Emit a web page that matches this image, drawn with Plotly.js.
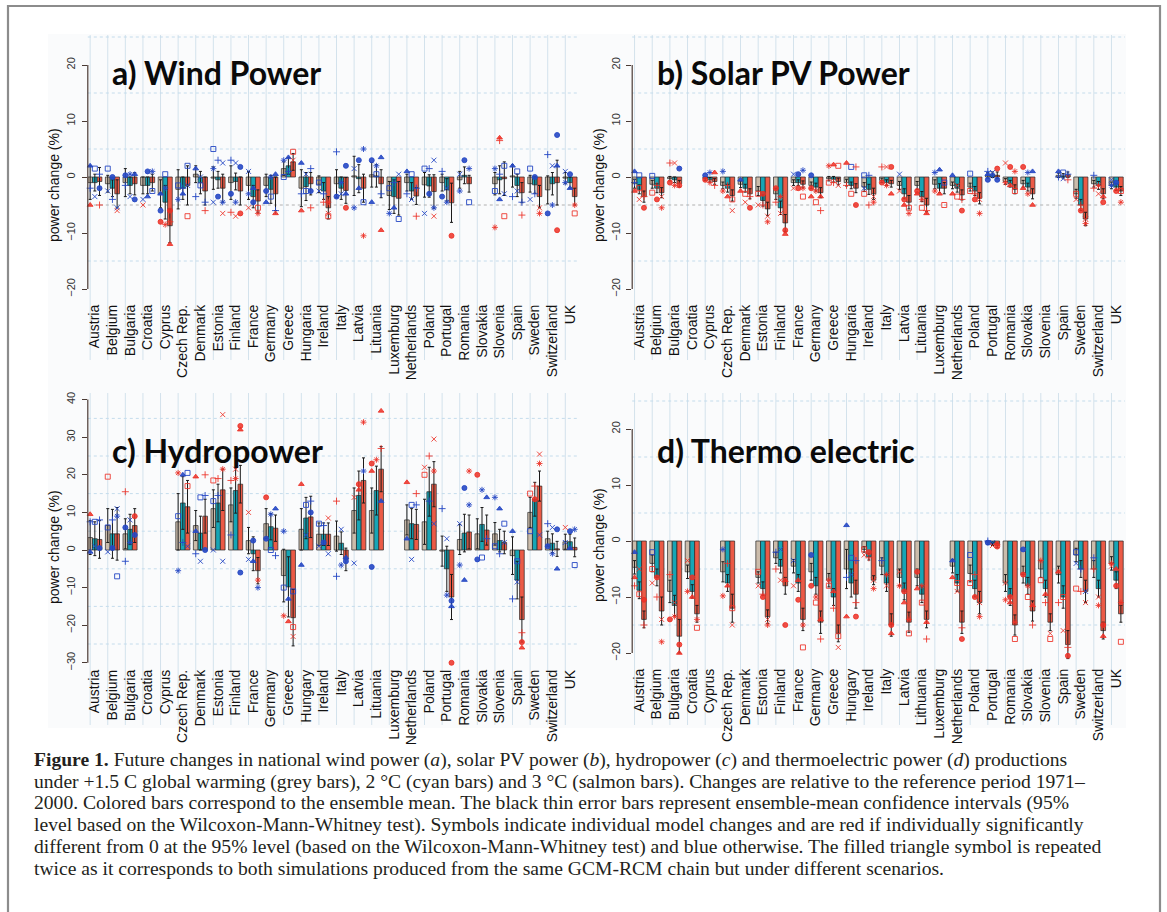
<!DOCTYPE html>
<html><head><meta charset="utf-8">
<script src="https://cdn.plot.ly/plotly-3.0.1.min.js"></script>
<style>html,body{margin:0;padding:0;background:#fff}#chart{width:1167px;height:912px}</style>
</head><body><div id="chart"></div>
<script>
// ---------------- DATA ----------------
const countriesWind = ['Austria','Belgium','Bulgaria','Croatia','Cyprus','Czech Rep.','Denmark','Estonia','Finland','France','Germany','Greece','Hungaria','Ireland','Italy','Latvia','Lituania','Luxemburg','Netherlands','Poland','Portugal','Romania','Slovakia','Slovenia','Spain','Sweden','Switzerland','UK'];
const countriesSolar = ['Austria','Belgium','Bulgaria','Croatia','Cyprus','Czech Rep.','Denmark','Estonia','Finland','France','Germany','Greece','Hungaria','Ireland','Italy','Latvia','Lituania','Luxemburg','Netherlands','Poland','Portugal','Romania','Slovakia','Slovenia','Spain','Sweden','Switzerland','UK'];
const countriesHydro = ['Austria','Belgium','Bulgaria','Croatia','Cyprus','Czech Rep.','Denmark','Estonia','Finland','France','Germany','Greece','Hungary','Ireland','Italy','Latvia','Lituania','Luxemburg','Netherlands','Poland','Portugal','Romania','Slovakia','Slovenia','Spain','Sweden','Switzerland','UK'];
const countriesThermo = ['Austria','Belgium','Bulgaria','Croatia','Cyprus','Czech Rep.','Denmark','Estonia','Finland','France','Germany','Greece','Hungary','Ireland','Italy','Latvia','Lithuania','Luxemburg','Netherlands','Poland','Portugal','Romania','Slovakia','Slovenia','Spain','Sweden','Switzerland','UK'];

// ensemble means: +1.5C (grey), +2C (cyan), +3C (salmon)
const windG = [-1.0,-1.2,-1.0,-1.5,-3.0,-2.2,0.5,-0.2,-1.0,-1.5,-1.5,1.5,-2.0,-1.3,-1.2,0.2,0.4,-3.3,-1.0,-1.4,-1.0,-0.5,null,-1.2,0.2,-1.2,-2.3,-0.2];
const windC = [-1.0,-2.0,-1.5,-1.5,-4.5,-2.0,-1.0,-0.5,-0.8,-3.5,-2.2,2.0,-1.7,-2.5,-2.0,-0.3,0.2,-3.5,-2.5,-1.6,-2.3,0.3,null,-0.5,-1.5,-1.4,-1.2,-1.0];
const windS = [-0.8,-3.0,-1.2,-1.0,-8.7,-1.5,-2.5,-2.0,-2.5,-4.3,-3.0,2.7,-1.2,-5.5,-2.4,-2.0,-1.2,-3.8,-3.4,-2.6,-4.6,-1.2,null,-0.3,-2.8,-3.5,-1.0,-3.5];
const windErrG = [3.0,1.5,2.5,1.5,2.5,3.5,1.5,2.0,3.0,2.5,2.0,1.2,3.3,1.5,2.5,3.5,2.2,2.5,1.5,2.2,1.5,1.5,null,2.0,2.0,1.5,2.5,1.0];
const windErrC = [1.5,1.5,1.5,1.5,3.0,2.0,2.0,1.5,1.5,2.0,2.5,1.5,2.5,1.5,2.0,2.5,2.0,3.0,1.5,2.0,2.0,1.5,null,2.5,2.0,1.5,2.0,1.0];
const windErrS = [2.5,2.5,2.0,1.5,3.0,3.5,2.5,2.5,2.5,2.0,3.0,1.5,2.0,2.0,2.3,2.5,2.5,3.0,1.5,3.0,3.5,1.5,null,3.0,1.8,2.0,4.0,1.5];

const solarG = [-1.2,-1.3,-0.3,null,-0.3,-1.5,-1.3,-2.5,-3.0,-1.0,-1.5,-0.3,-1.0,-1.8,-0.6,-1.5,-1.5,-1.3,-1.5,-1.8,0.3,-0.8,-1.2,null,0.3,-3.0,-1.2,-1.5];
const solarC = [-2.2,-2.0,-0.5,null,-0.5,-2.0,-2.0,-4.2,-5.5,-1.0,-1.8,-0.4,-1.5,-2.2,-1.0,-3.0,-3.5,-2.0,-2.0,-2.5,0.4,-1.2,-1.8,null,0.2,-5.0,-1.5,-1.8];
const solarS = [-3.5,-2.8,-1.2,null,-0.8,-3.3,-3.0,-5.7,-8.2,-1.3,-2.8,-0.8,-2.0,-3.0,-1.2,-4.5,-5.0,-2.0,-3.2,-3.8,0.3,-2.2,-3.0,null,0.4,-7.5,-3.0,-2.5];
const solarErrG = [0.8,0.7,0.4,null,0.3,0.6,0.6,0.8,1.0,0.5,0.6,0.4,0.6,0.8,0.4,0.7,0.7,0.8,0.6,0.7,0.5,0.5,0.6,null,0.4,0.8,0.6,0.6];
const solarErrC = [0.8,0.8,0.5,null,0.4,0.7,0.7,1.0,1.2,0.5,0.7,0.5,0.6,0.9,0.5,0.9,0.9,0.8,0.7,0.8,0.5,0.6,0.7,null,0.4,1.0,0.7,0.6];
const solarErrS = [1.0,0.9,0.6,null,0.5,1.0,0.9,1.2,1.5,0.6,0.9,0.6,0.8,1.0,0.6,1.2,1.2,1.0,0.9,1.0,0.6,0.8,0.9,null,0.5,1.2,0.9,0.8];

const hydroG = [3.3,6.5,4.3,null,null,7.5,6.5,11.0,12.0,2.5,7.0,-6.8,5.5,4.2,3.7,10.5,10.5,null,8.0,7.5,-0.3,2.8,4.3,4.3,-1.5,10.0,3.0,2.2];
const hydroC = [3.0,4.3,5.5,null,null,12.5,4.5,12.5,15.8,-1.0,6.2,-9.8,8.5,4.2,1.8,14.5,15.8,null,7.0,15.5,-5.0,4.5,6.8,2.5,-8.0,13.5,1.8,2.2];
const hydroS = [2.8,4.3,6.5,null,null,11.5,9.0,16.0,17.5,-5.5,5.8,-18.0,8.8,4.2,-2.5,18.5,21.5,null,6.8,17.5,-12.5,4.8,5.3,2.0,-18.5,17.0,0.3,0.7];
const hydroErrG = [4.5,4.5,4.0,null,null,7.5,4.0,5.0,4.5,3.5,4.0,7.0,5.5,3.0,4.0,6.0,6.0,null,4.0,6.0,4.0,4.0,4.0,3.0,5.0,4.0,2.0,2.0];
const hydroErrC = [4.5,6.5,4.0,null,null,7.0,4.5,5.0,6.0,4.5,3.5,8.0,5.5,3.0,3.0,6.5,6.5,null,4.0,6.5,6.0,5.0,4.5,3.0,5.0,4.5,2.5,2.0];
const hydroErrS = [5.0,7.0,4.5,null,null,7.0,4.5,5.5,5.0,3.5,3.5,7.5,5.5,3.0,3.0,6.0,6.0,null,4.0,6.0,6.0,4.5,4.0,3.0,6.0,4.0,2.0,2.5];

const thermoG = [-4.7,-4.0,-9.0,-5.5,null,-5.5,null,-6.5,-3.0,-4.5,-5.5,-7.0,-5.0,-1.5,-4.5,-6.5,-6.5,null,-4.5,-5.8,-0.3,-7.5,-6.0,-5.0,-6.0,-2.5,-5.0,-4.0];
const thermoC = [-8.8,-6.5,-11.5,-9.0,null,-7.5,null,-8.5,-4.5,-7.5,-8.0,-10.0,-7.5,-2.8,-7.5,-9.0,-9.5,null,-7.5,-8.5,-0.5,-10.0,-8.0,-8.5,-10.0,-5.0,-8.5,-7.0];
const thermoS = [-14.0,-12.5,-17.0,-13.0,null,-12.0,null,-13.5,-8.0,-14.0,-14.5,-16.5,-9.5,-7.0,-15.0,-14.5,-14.0,null,-14.5,-11.0,-0.8,-15.0,-12.5,-14.5,-18.5,-9.0,-16.0,-13.0];
const thermoErrG = [1.2,1.5,2.0,1.2,null,1.8,null,1.0,1.0,1.2,1.5,1.2,3.5,0.5,1.5,1.5,1.5,null,1.2,1.5,0.3,1.5,1.5,1.5,1.5,1.2,1.5,1.2];
const thermoErrC = [1.5,1.5,1.8,1.2,null,1.5,null,1.2,1.2,1.5,1.5,1.5,2.5,0.6,1.5,1.5,1.5,null,1.5,1.5,0.3,1.5,1.5,1.5,2.0,1.5,1.5,1.5];
const thermoErrS = [1.5,2.5,3.0,1.5,null,2.5,null,1.2,1.5,2.0,2.0,1.5,2.5,0.8,2.0,1.8,1.5,null,2.0,2.0,0.4,1.8,1.8,1.5,2.5,2.0,1.5,1.5];

// individual model changes (red = significant, blue = not)
const windBlueG = [[2.0,-2.0],[1.5,-2.5],[-1.5,0.3],[-4.0],[-6.0,-3.0],[-4.0,-1.5],[1.5,-3.5],[5.0,-4.5,1.5],[3.0,-3.0],[1.0,-3.0],[-2.5,-4.5],[3.0,0],[2.5,-3.0],[-1.0,-2.5],[4.5,-3.5],[1.5,-5.5],[3.0,-4.5],[-6.5,-2.0],[1.0,-3.0],[1.5,-6.5],[1.0,-3.5],[0.5,-2.5],[],[1.5,-2.5],[2.0,-3.5],[1.5,-4.0],[4.0,-6.5],[1.0,-1.0]];
const windRedG = [[-5.0],[],[],[-5.0],[-8.0],[],[],[],[-6.3],[-5.5],[],[],[-6.0],[],[],[],[],[],[],[],[],[],[],[-9.0],[],[],[],[]];
const windBlueC = [[1.5,-3.5],[-4.0,0],[-3.5,0.5],[1.0,-3.5],[-2.0,0.5],[-3.0,-2.0],[-1.5,0],[3.0,-3.5],[2.5,-4.5],[-4.5,-2.0],[0,-3.5],[3.5,1.0],[-2.5,0.5],[-3.0],[-3.0,-1.0],[3.0,-2.0],[2.0,0.5],[-5.5,-1.0],[0.5,-4.0],[1.5,-3.0],[-2.0,-4.5],[3.0],[],[-4.0,0.5],[1.0,-2.5],[-3.0,0],[2.0,-5.0],[0.5,-2.0]];
const windRedC = [[],[],[],[],[-8.5],[],[],[],[-7.0],[],[],[],[],[-4.5],[],[],[],[],[],[],[],[],[],[7.0,6.5],[],[],[],[]];
const windBlueS = [[0.5,-2.0],[-5.5],[-4.0,0.5],[1.0,-2.5],[],[2.0,-1.5],[-4.5],[2.5,-4.5],[1.8],[],[0.5,-6.0],[],[1.5,-2.5],[],[2.0,-3.0],[5.0,-4.5],[3.5,-3.0],[-7.5,0.5],[-2.0],[3.0,-5.5],[],[1.5,-4.5],[],[2.0,-3.0],[-4.5],[],[7.5,2.0],[]];
const windRedS = [[-5.0],[-6.0],[],[],[-12.0,-8.0,-6.0],[-7.0],[-6.0],[-6.5],[-6.5],[-6.5,-5.5],[-6.5],[4.5,3.0],[-5.5],[-6.5,-4.5,-7.0],[-5.5],[-10.5],[-9.5],[],[-7.0],[-7.0],[-10.5],[],[],[-7.0],[-6.8],[-5.5,-6.5],[-9.5],[-5.0,-6.5]];

const solarBlueG = [[1.0,-1.0],[0.2],[],[],[0.3],[1.0],[-0.5],[],[],[0.5],[0.3],[],[],[0.3,-2.0],[],[0.5],[],[0.8],[0.3],[0.6],[1.0,-0.5,0.5],[],[],[],[1.0,0],[],[0.3],[-0.5,-1.5]];
const solarRedG = [[-2.5],[-2.8],[2.5,-1.0],[],[-0.5],[-2.5],[-2.5],[-3.0,-5.0],[-4.5,-2.0],[-2.0],[-2.0,-3.5],[2.0,-1.0],[2.5,-1.5],[-3.0],[1.8,-1.0],[-2.5],[-2.5,-3.0],[-2.5],[-3.0],[-2.5],[],[2.5,-1.0],[1.8,-2.0],[],[],[-3.0,-4.0],[-2.0],[]];
const solarBlueC = [[0.3],[],[],[],[0.8],[],[],[],[],[0.5],[],[],[1.8],[0.3],[],[],[],[1.3],[],[],[0.8,0.3],[],[0.8],[],[0.8,-0.3],[],[],[-1.0]];
const solarRedC = [[-2.0,-4.0],[-1.5,-4.0],[2.5,-1.5],[],[-1.0],[-3.5,-1.5],[-3.0,-4.5],[-5.0,-3.0],[-6.5,-3.5],[-2.0],[-2.5,-4.5],[2.2,-1.0],[-3.0],[-5.0],[1.8,-1.5],[-4.0,-5.0],[-4.0,-5.5],[-3.0],[-3.5,-1.5],[-3.0,-4.0],[],[1.8,-1.5],[-3.0],[],[],[-5.0,-6.0],[-3.0,-1.5],[-2.5]];
const solarBlueS = [[],[],[1.5],[],[],[],[],[],[],[1.2],[],[],[],[],[],[],[],[-1.0],[],[],[-0.5],[],[1.0],[],[0.5],[],[],[]];
const solarRedS = [[-3.5,-5.5],[-3.5,-5.5],[-1.5],[],[0.8,-1.5],[-4.0,-6.0],[-3.5,-5.5],[-7.0,-8.0],[-9.5,-10.2],[-2.0,-3.5],[-3.5,-6.0],[2.0,-1.5],[1.8,-5.0],[-3.5,-4.5],[1.8,-3.0],[-6.5,-5.5],[-6.5,-6.0],[-5.0],[-4.0,-6.0],[-4.0,-6.5],[1.5],[1.0,-2.5],[-5.0],[],[-0.5],[-7.5,-8.3],[-4.5,-3.5],[-4.5,-2.5]];

const hydroBlueG = [[-0.5,7.5],[6.0,-0.5],[-3.0,6.0],[],[],[-5.5,9.0],[5.0,-1.0],[13.0,0],[4.0],[-2.5],[3.0],[5.0,-10.0],[-4.0],[7.0,1.0],[-7.0],[-3.5],[-4.5],[],[3.0],[],[11.0],[7.0,-4.0],[-2.5],[14.0,1.0],[5.0,-13.0],[5.0],[7.0,1.0],[2.0]];
const hydroRedG = [[9.5],[19.5],[15.5],[],[],[20.5],[19.5],[18.5],[18.5],[10.0],[14.0],[-17.5],[17.5],[],[13.0],[14.0],[23.0,21.0],[],[18.0],[20.0,22.0],[],[],[20.0],[],[],[15.0],[],[6.0]];
const hydroBlueC = [[7.5,1.0],[8.0,0.5],[8.0,2.0],[],[],[20.0,2.0],[14.0,-3.0],[14.5],[],[2.5,-3.0],[9.5,0],[-13.0],[12.0,4.0],[6.5,2.0],[5.5,-4.0],[],[],[],[12.0,-2.5],[13.0],[3.0,-12.0],[16.5,-8.0],[16.0,-2.0],[11.0,-1.0],[-3.0,-8.5],[],[6.0,-1.0],[5.0,0.5]];
const hydroRedC = [[],[],[],[],[],[],[],[19.0],[21.5,19.0],[],[],[-19.0],[],[],[],[17.5,16.0],[24.0],[],[],[25.0],[],[],[],[],[],[17.0,13.5],[],[]];
const hydroBlueS = [[8.0,0.5],[11.0,9.0,-7.0],[4.0],[],[],[20.5,1.0],[14.5,0],[-3.0],[-6.0],[-10.0],[11.0,-1.5],[-11.0],[13.0,10.0],[-1.0],[-3.0,-2.0],[21.0],[13.0],[],[12.0],[7.0],[-13.5,-15.0],[12.0],[14.0,3.0],[7.0,2.0],[],[4.0],[5.5,-5.0],[5.5,-4.0]];
const hydroRedS = [[],[],[9.0],[],[],[17.0],[20.0],[36.0,21.5],[33.0,32.0],[-8.0],[],[-20.5,-23.0],[],[8.5],[],[34.0],[37.0,27.0],[],[15.0],[29.5,21.0],[-30.0],[21.0],[],[],[-22.0,-24.5,-26.0],[25.5,23.0],[],[]];

const thermoBlueG = [[-2.0],[-2.0],[],[],[],[-1.5],[],[],[-2.0],[-3.5],[-2.5],[],[2.8,-6.5],[],[-3.5],[],[],[],[-3.5],[-2.5],[0,-0.3],[],[-1.5],[],[],[-2.0,-4.0],[-3.0],[]];
const thermoRedG = [[-6.5,-8.0],[-5.0,-7.5],[-6.0,-14.0],[-3.5,-9.0],[],[-9.8],[],[-5.5,-8.0],[-5.0],[-8.0],[-8.0],[-7.0,-8.0],[-13.5],[-1.5,-2.5],[],[-5.5,-8.0],[-5.5,-8.5],[],[-6.5],[-7.5],[],[-7.5,-10.5],[-6.0],[-3.5,-7.0],[-5.5,-11.0],[-8.5],[-5.0],[-4.5,-4.0]];
const thermoBlueC = [[],[],[],[],[],[],[],[],[-1.5],[],[],[],[-3.0,-6.0],[],[],[],[],[],[],[],[-0.3],[],[],[],[],[-5.0],[],[]];
const thermoRedC = [[-9.5,-5.0],[-10.0,-6.5],[-11.0,-13.5],[-6.5,-10.0],[],[-8.0,-4.0],[],[-9.5,-10.0],[-7.0],[-10.5,-7.0],[-10.0,-11.0],[-9.0,-12.0],[],[-3.0,-2.0],[-8.0,-6.0],[-9.0,-11.0],[-8.0,-11.0],[],[-7.5,-9.0],[-6.0,-10.0],[-0.8],[-10.0,-11.0],[-8.0,-10.0],[-9.5,-11.0],[-10.0,-16.0],[-9.0],[-10.0,-11.5],[-8.0,-5.0]];
const thermoBlueS = [[],[],[],[],[],[],[],[],[],[],[],[],[-3.5],[],[],[],[],[],[],[],[],[],[],[],[],[-9.0],[],[]];
const thermoRedS = [[-15.0,-10.5],[-14.0,-18.0],[-18.5,-20.0],[-14.0,-15.5],[],[-12.0,-15.0],[],[-14.0,-15.0],[-15.0,-7.0],[-15.0,-19.0],[-14.0,-17.5],[-17.0,-19.0],[-11.0,-13.5],[-7.0,-8.5],[-15.0,-16.5],[-14.0,-16.5],[-14.5,-17.5],[],[-15.5,-17.5],[-11.0,-13.5],[-1.0,-0.5],[-14.5,-17.5],[-11.5,-15.0],[-17.5,-16.5],[-19.0,-20.5],[-11.0],[-15.0,-17.0],[-11.0,-18.0]];

const ticksWind = [20,10,0,-10,-20];
const ticksHydro = [40,30,20,10,0,-10,-20,-30];
const yTitleText = 'power change (%)';
const captionLines = [
 '<b>Figure 1.</b> Future changes in national wind power (<i>a</i>), solar PV power (<i>b</i>), hydropower (<i>c</i>) and thermoelectric power (<i>d</i>) productions',
 'under +1.5 C global warming (grey bars), 2 °C (cyan bars) and 3 °C (salmon bars). Changes are relative to the reference period 1971–',
 '2000. Colored bars correspond to the ensemble mean. The black thin error bars represent ensemble-mean confidence intervals (95%',
 'level based on the Wilcoxon-Mann-Whitney test). Symbols indicate individual model changes and are red if individually significantly',
 'different from 0 at the 95% level (based on the Wilcoxon-Mann-Whitney test) and blue otherwise. The filled triangle symbol is repeated',
 'twice as it corresponds to both simulations produced from the same GCM-RCM chain but under different scenarios.'
];

// ---------------- LAYOUT ----------------
const W=1167, H=912;
const px=p=>p/W, py=p=>1-p/H;
const panels = [
 {countries:countriesWind, vals:[windG,windC,windS], err:[windErrG,windErrC,windErrS], red:[windRedG,windRedC,windRedS], blue:[windBlueG,windBlueC,windBlueS],
  dx:[87.8,578.8], dy:[35,292], zero:177, ppu:5.6, ticks:ticksWind, grid:[25,15,5,-5,-15], axisLine:[-20,20], vg:[35,360], dark5:true, stand:9,
  title:'a) Wind Power', tpos:[110,72], ypos:[54,185]},
 {countries:countriesSolar, vals:[solarG,solarC,solarS], err:[solarErrG,solarErrC,solarErrS], red:[solarRedG,solarRedC,solarRedS], blue:[solarBlueG,solarBlueC,solarBlueS],
  dx:[632.2,1125], dy:[35,292], zero:177, ppu:5.6, ticks:ticksWind, grid:[25,15,5,-5,-15], axisLine:[-20,20], vg:[35,360], dark5:true, stand:9,
  title:'b) Solar PV Power', tpos:[655,72], ypos:[599,185]},
 {countries:countriesHydro, vals:[hydroG,hydroC,hydroS], err:[hydroErrG,hydroErrC,hydroErrS], red:[hydroRedG,hydroRedC,hydroRedS], blue:[hydroBlueG,hydroBlueC,hydroBlueS],
  dx:[87.8,578.8], dy:[393,664], zero:550, ppu:3.76, ticks:ticksHydro, grid:[35,25,15,5,-5,-15,-25], axisLine:[-30,40], vg:[393,725], dark5:false, stand:2,
  title:'c) Hydropower', tpos:[110,450], ypos:[54,547]},
 {countries:countriesThermo, vals:[thermoG,thermoC,thermoS], err:[thermoErrG,thermoErrC,thermoErrS], red:[thermoRedG,thermoRedC,thermoRedS], blue:[thermoBlueG,thermoBlueC,thermoBlueS],
  dx:[632.2,1125], dy:[393,660], zero:541, ppu:5.6, ticks:ticksWind, grid:[25,15,5,-5,-15], axisLine:[-20,20], vg:[393,725], dark5:false, stand:5,
  title:'d) Thermo electric', tpos:[655,450], ypos:[599,545]}
];

const SYM=['triangle-up','square-open','cross-thin-open','x-thin-open','circle','asterisk-open'];
const BAR=['#cbbcab','#17a5b5','#eb5a46'];
const PT={red:'rgba(236,48,38,0.85)', blue:'rgba(38,72,196,0.9)'};
const OFF=[-0.8/3,0,0.8/3];

const traces=[], shapes=[], annotations=[];
const layout={width:W,height:H,margin:{l:0,r:0,t:0,b:0},paper_bgcolor:'#ffffff',plot_bgcolor:'rgba(0,0,0,0)',
  barmode:'group',bargap:0.2,bargroupgap:0,showlegend:false,font:{family:'Liberation Sans, Arial, sans-serif'}};

shapes.push({type:'rect',xref:'paper',yref:'paper',x0:px(48),x1:px(1126),y0:py(728),y1:py(34),fillcolor:'#fafbfc',line:{width:0},layer:'below'});
shapes.push({type:'rect',xref:'paper',yref:'paper',x0:px(8),x1:px(1160),y0:py(918),y1:py(6),fillcolor:'rgba(0,0,0,0)',line:{color:'#8c8c8c',width:2.2}});

panels.forEach((P,k)=>{
  const n=k+1, xs=n===1?'x':'x'+n, ys=n===1?'y':'y'+n;
  const xa=n===1?'xaxis':'xaxis'+n, ya=n===1?'yaxis':'yaxis'+n;
  const idx=P.countries.map((_,i)=>i);
  layout[xa]={domain:[px(P.dx[0]),px(P.dx[1])],range:[-0.4,27.5],anchor:ys,tickmode:'array',tickvals:idx,ticktext:P.countries,
    tickangle:-90,ticks:'',showgrid:false,zeroline:false,showline:false,ticklabelstandoff:P.stand,
    tickfont:{family:'Liberation Sans, Arial, sans-serif',size:14,color:'#111'}};
  layout[ya]={domain:[py(P.dy[1]),py(P.dy[0])],range:[(P.zero-P.dy[1])/P.ppu,(P.zero-P.dy[0])/P.ppu],anchor:xs,
    tickmode:'array',tickvals:P.ticks,tickangle:-90,ticks:'outside',ticklen:5,tickcolor:'#4a3a34',tickwidth:1,
    showgrid:false,zeroline:false,showline:false,ticklabelstandoff:2,
    tickfont:{family:'Liberation Sans, Arial, sans-serif',size:11,color:'#333'}};
  idx.forEach(i=>shapes.push({type:'line',xref:xs,yref:'paper',x0:i+OFF[0],x1:i+OFF[0],y0:py(P.vg[1]),y1:py(P.vg[0]),
    line:{color:'#d3e2ec',width:1},layer:'below'}));
  P.grid.forEach(v=>shapes.push({type:'line',xref:xs+' domain',yref:ys,x0:0,x1:1,y0:v,y1:v,
    line:{color:(v===-5&&P.dark5)?'#b0b0b0':'#c4dcec',width:1,dash:'dot'},layer:'below'}));
  shapes.push({type:'line',xref:xs+' domain',yref:ys,x0:0,x1:0,y0:P.axisLine[0],y1:P.axisLine[1],line:{color:'#4a3a34',width:1.2}});
  P.vals.forEach((v,j)=>traces.push({type:'bar',x:idx,y:v,xaxis:xs,yaxis:ys,
    marker:{color:BAR[j],line:{color:'#262626',width:0.7}},
    error_y:{type:'data',array:P.err[j],visible:true,color:'#1a1a1a',thickness:1,width:1.5},hoverinfo:'skip'}));
  [['blue',P.blue],['red',P.red]].forEach(([col,lists])=>lists.forEach((L,j)=>{
    const x=[],y=[],sym=[];
    L.forEach((vs,i)=>vs.forEach((v,m)=>{x.push(i+OFF[j]);y.push(v);sym.push(SYM[(m*2+i+j)%SYM.length]);}));
    traces.push({type:'scatter',mode:'markers',x,y,xaxis:xs,yaxis:ys,cliponaxis:false,hoverinfo:'skip',
      marker:{symbol:sym,size:5,color:PT[col],line:{color:PT[col],width:1}}});
  }));
  annotations.push({xref:'paper',yref:'paper',x:px(P.tpos[0]),y:py(P.tpos[1]),xanchor:'left',yanchor:'middle',showarrow:false,
    text:'<b>'+P.title+'</b>',font:{family:'Lato, Open Sans, sans-serif',size:32,color:'#0a0a0a'}});
  annotations.push({xref:'paper',yref:'paper',x:px(P.ypos[0]),y:py(P.ypos[1]),xanchor:'center',yanchor:'middle',showarrow:false,
    textangle:-90,text:yTitleText,font:{family:'Liberation Sans, Arial, sans-serif',size:14,color:'#111'}});
});

const capY=[760,782,803,825,847,868];
captionLines.forEach((t,i)=>annotations.push({xref:'paper',yref:'paper',x:px(32),y:py(capY[i]),xanchor:'left',yanchor:'middle',
  showarrow:false,text:t,font:{family:'Liberation Serif, Times New Roman, serif',size:19.6,color:'#231f20'}}));

layout.shapes=shapes; layout.annotations=annotations;
Plotly.newPlot('chart',traces,layout,{displayModeBar:false,staticPlot:true});
</script></body></html>
